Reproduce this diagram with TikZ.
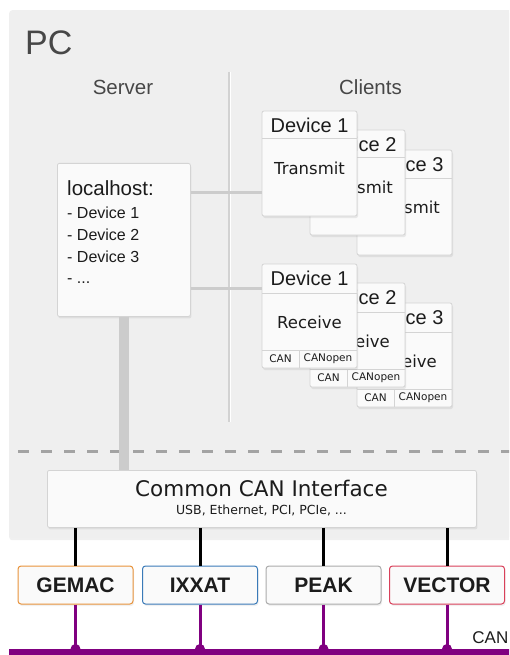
\documentclass[tikz,border=0pt]{standalone}
\usepackage{fontspec}
\setmainfont{Liberation Sans}
\newfontfamily\dejavu{DejaVu Sans}
\usetikzlibrary{shadows,calc}
\definecolor{pcbg}{HTML}{EFEFEF}
\definecolor{boxfill}{HTML}{FAFAFA}
\definecolor{boxline}{HTML}{D4D4D4}
\definecolor{conncol}{HTML}{CCCCCC}
\definecolor{divcol}{HTML}{D2D2D2}
\definecolor{dashcol}{HTML}{A3A3A3}
\definecolor{titlecol}{HTML}{474747}
\definecolor{txtcol}{HTML}{1C1C1C}
\definecolor{gemaccol}{HTML}{E8923A}
\definecolor{ixxatcol}{HTML}{3A7AB8}
\definecolor{peakcol}{HTML}{ABABAB}
\definecolor{vectorcol}{HTML}{D9405A}
\definecolor{buscol}{HTML}{800080}
\tikzset{
  pcbox/.style={draw=none, fill=pcbg, rounded corners=3pt, inner sep=0pt,
    drop shadow={opacity=0.12, shadow xshift=0pt, shadow yshift=-3pt}},
  whitebox/.style={draw=boxline, fill=boxfill, line width=0.8pt, rounded corners=2pt, inner sep=0pt,
    drop shadow={opacity=0.15, shadow xshift=1pt, shadow yshift=-2pt}},
  devbox/.style={whitebox, minimum width=95pt, minimum height=105pt},
  sepline/.style={draw=boxline, line width=1pt},
  devhead/.style={font=\fontsize{20}{22}\selectfont, text=txtcol, inner sep=0pt},
  devbody/.style={font=\dejavu\fontsize{16.5}{18}\selectfont, text=txtcol, inner sep=0pt},
  cantext/.style={font=\dejavu\fontsize{10.5}{12}\selectfont, text=txtcol, inner sep=0pt},
  conn/.style={draw=conncol, line width=3pt},
  vendor/.style={draw=#1, fill=boxfill, line width=1pt, rounded corners=3pt, minimum width=115pt,
    minimum height=38pt, inner sep=0pt, font=\bfseries\fontsize{21}{24}\selectfont, text=txtcol,
    drop shadow={opacity=0.12, shadow xshift=1pt, shadow yshift=-2pt}},
  blackline/.style={draw=black, line width=3pt},
  purline/.style={draw=buscol, line width=3pt},
}
\newcommand\devtx[4]{% name, left, top, number
  \node[devbox] (#1) at ({#2+47.5},{#3+52.5}) {};
  \draw[sepline] ({#2},{#3+28}) -- ({#2+95},{#3+28});
  \node[devhead] (#1h) at ({#2+47.5},{#3+14}) {Device #4};
  \node[devbody] (#1b) at ({#2+47.5},{#3+57}) {Transmit};
}
\newcommand\devrx[4]{% name, left, top, number
  \node[devbox, minimum height=104pt] (#1) at ({#2+47.5},{#3+52}) {};
  \draw[sepline] ({#2},{#3+29}) -- ({#2+95},{#3+29});
  \draw[sepline] ({#2},{#3+86}) -- ({#2+95},{#3+86});
  \draw[sepline] ({#2+37},{#3+86}) -- ({#2+37},{#3+104});
  \node[devhead] (#1h) at ({#2+47.5},{#3+14.5}) {Device #4};
  \node[devbody] (#1b) at ({#2+47.5},{#3+58}) {Receive};
  \node[cantext] (#1c) at ({#2+18.5},{#3+95}) {CAN};
  \node[cantext] (#1o) at ({#2+66},{#3+95}) {CANopen};
}
\begin{document}
\begin{tikzpicture}[x=1pt,y=-1pt]
\useasboundingbox (0,0) rectangle (509,655);
\begin{scope}
\clip (0,0) rectangle (509,655);
% PC area
\node[pcbox, minimum width=510pt, minimum height=527pt, anchor=north west] (pc) at (9,10) {};
\node[anchor=base west, inner sep=0pt, text=titlecol, font=\fontsize{34}{36}\selectfont] (pctitle) at (25,55) {PC};
\node[anchor=base, inner sep=0pt, text=titlecol, font=\fontsize{20.5}{22}\selectfont] (server) at (123,95) {Server};
\node[anchor=base, inner sep=0pt, text=titlecol, font=\fontsize{20.5}{22}\selectfont] (clients) at (370.5,95) {Clients};
% divider
\coordinate (divtop) at (229,72);
\coordinate (divbot) at (229,422);
\draw[draw=white, line width=1pt] ([xshift=1.5pt]divtop) -- ([xshift=1.5pt]divbot);
\draw[draw=divcol, line width=2pt] (divtop) -- (divbot);
% dashed separator
\coordinate (dashl) at (18,451);
\coordinate (dashr) at (520,451);
\draw[draw=dashcol, line width=3pt, dash pattern=on 11pt off 12pt] (dashl) -- (dashr);
% localhost
\node[whitebox, minimum width=133pt, minimum height=153pt, anchor=north west] (lh) at (57,163) {};
\node[anchor=base west, inner sep=0pt, text=txtcol, font=\fontsize{20.5}{22}\selectfont] (lh0) at (67,195) {localhost:};
\node[anchor=base west, inner sep=0pt, text=txtcol, font=\fontsize{16}{18}\selectfont] (lh1) at (67,218) {- Device 1};
\node[anchor=base west, inner sep=0pt, text=txtcol, font=\fontsize{16}{18}\selectfont] (lh2) at (67,240) {- Device 2};
\node[anchor=base west, inner sep=0pt, text=txtcol, font=\fontsize{16}{18}\selectfont] (lh3) at (67,262) {- Device 3};
\node[anchor=base west, inner sep=0pt, text=txtcol, font=\fontsize{16}{18}\selectfont] (lh4) at (67,283) {- ...};
% clients
\devtx{t3}{357}{150}{3}
\devtx{t2}{310}{130}{2}
\devtx{t1}{262}{111}{1}
\devrx{r3}{357}{303}{3}
\devrx{r2}{310}{283}{2}
\devrx{r1}{262}{264}{1}
% connectors
\draw[conn] ([yshift=-29pt]lh.north east) -- ([yshift=-29pt]lh.north east -| t1.west);
\draw[conn] ([yshift=-125pt]lh.north east) -- ([yshift=-125pt]lh.north east -| r1.west);
% common CAN interface
\node[whitebox, minimum width=429pt, minimum height=57pt, anchor=north west] (cci) at (47,470) {};
\draw[draw=conncol, line width=10pt] (lh.south) -- (lh.south |- cci.north);
\node[anchor=base, inner sep=0pt, text=txtcol, font=\dejavu\fontsize{21.5}{23}\selectfont] (ccit) at (261.5,496) {Common CAN Interface};
\node[anchor=base, inner sep=0pt, text=txtcol, font=\dejavu\fontsize{12.5}{14}\selectfont] (ccis) at (261.5,514.5) {USB, Ethernet, PCI, PCIe, ...};
\end{scope}
% vendors
\node[vendor=gemaccol] (gemac) at (75.5,585) {GEMAC};
\node[vendor=ixxatcol] (ixxat) at (200,585) {IXXAT};
\node[vendor=peakcol] (peak) at (323.5,585) {PEAK};
\node[vendor=vectorcol] (vector) at (447,585) {VECTOR};
\foreach \v in {gemac,ixxat,peak,vector}{
  \draw[blackline] (\v.north |- cci.south) -- (\v.north);
}
% bus
\begin{scope}
\clip (0,0) rectangle (509,655);
\node[fill=buscol, minimum width=511pt, minimum height=12pt, inner sep=0pt, anchor=north west] (bus) at (9,649) {};
\foreach \v in {gemac,ixxat,peak,vector}{
  \draw[purline] (\v.south) -- (\v.south |- bus.north);
  \fill[buscol] (\v.south |- bus.north) circle (5pt);
}
\node[anchor=base east, inner sep=0pt, text=txtcol, font=\fontsize{17}{19}\selectfont] (canlbl) at (508.5,643) {CAN};
\end{scope}
\end{tikzpicture}
\end{document}
